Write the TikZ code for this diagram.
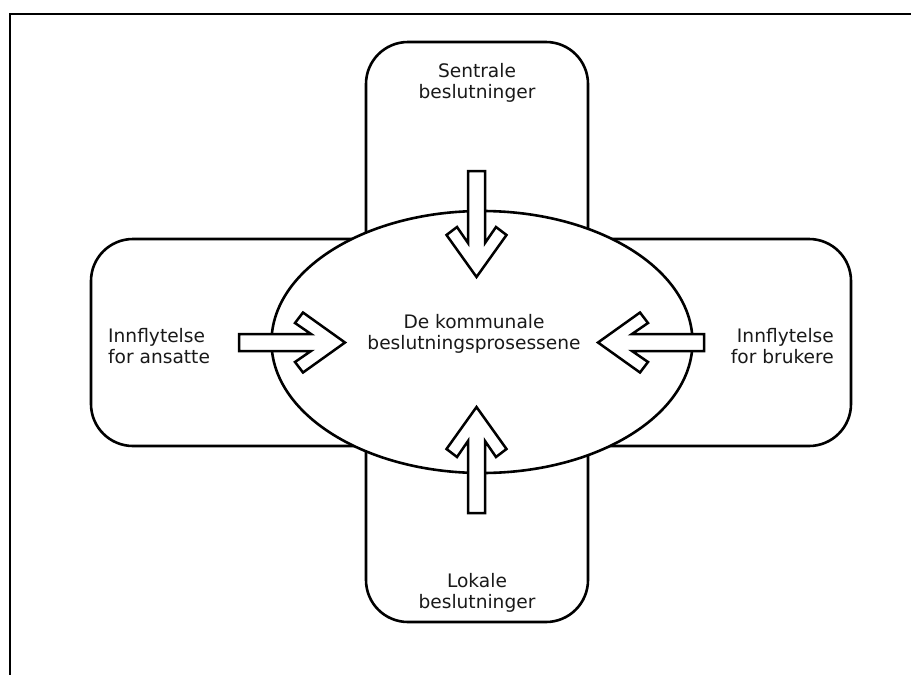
\documentclass[tikz,border=0pt]{standalone}
\usepackage{fontspec}
\setmainfont{DejaVu Sans}
\usetikzlibrary{shapes.geometric}

\tikzset{
  outline/.style={draw=black, line width=2.6pt, fill=white},
  roundbox/.style={outline, rectangle, rounded corners=42pt, inner sep=0pt},
  label/.style={font=\fontsize{18.6}{20.5}\selectfont, align=center, inner sep=0pt, text=black!90},
  % chevron-headed block arrow, tip at the pic origin, pointing along +x
  fatarrow/.pic={
    \draw[outline, line width=2.5pt, line join=miter]
      (0,0) -- (-42,30) -- (-50,19.5) -- (-34,8.5) -- (-106,8.5)
      -- (-106,-8.5) -- (-34,-8.5) -- (-50,-19.5) -- (-42,-30) -- cycle;
  }
}

\begin{document}
\begin{tikzpicture}[x=1pt, y=-1pt]
  \useasboundingbox (0,0) rectangle (911,675);

  % open frame: left and top edges only
  \draw[line width=2pt] (10,675) -- (10,14) -- (911,14);

  % the two crossing boxes
  \node[roundbox, minimum width=222pt, minimum height=580pt] (vbox) at (477,332) {};
  \node[roundbox, minimum width=760pt, minimum height=207pt] (hbox) at (471,342.5) {};

  % central ellipse
  \node[outline, ellipse, inner sep=0pt, minimum width=421pt, minimum height=262pt] (core) at (482,342) {};

  % arrows pointing into the centre
  \pic[rotate=-90] at (476.5,277) {fatarrow};
  \pic[rotate=90]  at (476.5,407) {fatarrow};
  \pic             at (345,342.5) {fatarrow};
  \pic[rotate=180] at (598,342.5) {fatarrow};

  % texts
  \node[label] (sentral) at (477,83) {Sentrale\\beslutninger};
  \node[label] (lokal) at (477,593) {Lokale\\beslutninger};
  \node[label, align=left, anchor=west] (ansatte) at (108,346) {Innflytelse\\for ansatte};
  \node[label, align=right, anchor=east] (brukere) at (834,346) {Innflytelse\\for brukere};
  \node[label] (kommunal) at (474,334) {De kommunale\\beslutningsprosessene};
\end{tikzpicture}
\end{document}
